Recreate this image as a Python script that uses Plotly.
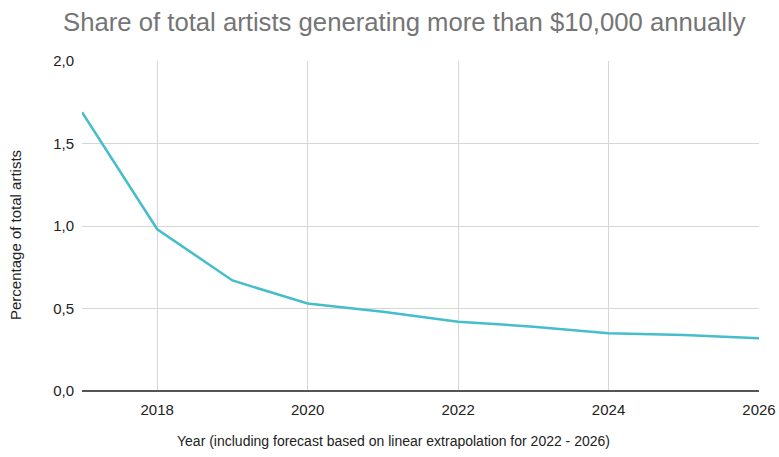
import plotly.graph_objects as go

years = [2017, 2018, 2019, 2020, 2021, 2022, 2023, 2024, 2025, 2026]
share = [1.69, 0.98, 0.67, 0.53, 0.48, 0.42, 0.39, 0.35, 0.34, 0.32]

title_text = "Share of total artists generating more than $10,000 annually"
x_title = "Year (including forecast based on linear extrapolation for 2022 - 2026)"
y_title = "Percentage of total artists"

W, H = 779, 457
PLOT_L, PLOT_R, PLOT_T, PLOT_B = 82, 759, 61, 391  # page pixels of the plot area
L, R, T, B = PLOT_L, W - PLOT_R, PLOT_T, H - PLOT_B
PW, PH = W - L - R, H - T - B

fig = go.Figure()
fig.add_trace(go.Scatter(x=years, y=share, mode="lines",
                         line=dict(color="#46BDCB", width=2.5),
                         hoverinfo="x+y", showlegend=False))

fig.update_layout(
    width=W, height=H,
    margin=dict(l=L, r=R, t=T, b=B, autoexpand=False),
    paper_bgcolor="white", plot_bgcolor="white",
    separators=", ",
    font=dict(family="Liberation Sans, Arial, sans-serif", size=15, color="#222222"),
    annotations=[
        dict(text=title_text, xref="paper", yref="paper",
             x=(404 - PLOT_L) / PW, y=1 + (PLOT_T - 22) / PH,
             xanchor="center", yanchor="middle", showarrow=False,
             font=dict(size=25.7, color="#757575")),
        dict(text=x_title, xref="paper", yref="paper",
             x=(393 - PLOT_L) / PW, y=-(441 - PLOT_B) / PH,
             xanchor="center", yanchor="middle", showarrow=False,
             font=dict(size=14, color="#222222")),
        dict(text=y_title, xref="paper", yref="paper", textangle=-90,
             x=-(PLOT_L - 15) / PW, y=(PLOT_B - 235) / PH,
             xanchor="center", yanchor="middle", showarrow=False,
             font=dict(size=15, color="#222222")),
    ],
)
fig.update_xaxes(range=[2017, 2026], tickmode="linear", tick0=2018, dtick=2,
                 tickformat="d", showgrid=True, gridcolor="#d6d6d6", gridwidth=1,
                 zeroline=False, showline=False, ticks="", ticklabelstandoff=8,
                 ticklabeloverflow="allow", automargin=False)
fig.update_yaxes(range=[0, 2], tickmode="linear", tick0=0, dtick=0.5,
                 tickformat=".1f", showgrid=True, gridcolor="#d6d6d6", gridwidth=1,
                 zeroline=True, zerolinecolor="#555555", zerolinewidth=1.5,
                 showline=False, ticks="", ticklabelstandoff=7, automargin=False)

page_css = ("document.documentElement.style.margin='0';"
            "document.body.style.margin='0';"
            "document.documentElement.style.overflow='hidden';"
            "document.body.style.overflow='hidden';")

fig.write_html("out.html", post_script=page_css,
               config={"displayModeBar": False})
